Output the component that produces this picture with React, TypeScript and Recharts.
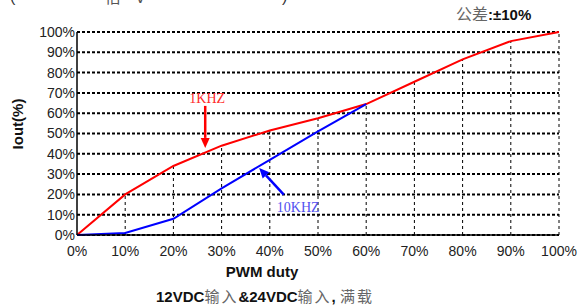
import React from 'react';
import { LineChart, Line, XAxis, YAxis, CartesianGrid, ReferenceLine } from 'recharts';

const duty = [0, 10, 20, 30, 40, 50, 60, 70, 80, 90, 100];
const iout1k = [0, 20, 34, 44, 51.5, 57.5, 64.5, 75.5, 86.5, 95.5, 100];
const iout10k: (number | null)[] = [0, 1, 8, 23, 37, 51, 64.5, null, null, null, null];
const xTicks = [0, 10, 20, 30, 40, 50, 60, 70, 80, 90, 100];
const yTicks = [0, 10, 20, 30, 40, 50, 60, 70, 80, 90, 100];

const label1k = '1KHZ';
const label10k = '10KHZ';
const arrow1k = [{ x: 26.6, y: 63.6 }, { x: 26.6, y: 42.9 }];
const arrow10k = [{ x: 42.9, y: 19.9 }, { x: 37.8, y: 33 }];

const data = duty.map((d, i) => ({ duty: d, k1: iout1k[i], k10: iout10k[i] }));

const makeArrow = (color: string, textColor: string, text: string, tdx: number, tdy: number, anchor: string) => (props: any) => {
  const { x1, y1, x2, y2 } = props;
  const ang = Math.atan2(y2 - y1, x2 - x1);
  const len = 10;
  const hw = 4.5;
  const bx = x2 - len * Math.cos(ang);
  const by = y2 - len * Math.sin(ang);
  const px = -Math.sin(ang);
  const py = Math.cos(ang);
  return (
    <g>
      <line x1={x1} y1={y1} x2={bx} y2={by} stroke={color} strokeWidth={2.5} />
      <polygon points={`${x2},${y2} ${bx + px * hw},${by + py * hw} ${bx - px * hw},${by - py * hw}`} fill={color} />
      <text x={x1 + tdx} y={y1 + tdy} fill={textColor} fontFamily="'Liberation Serif', serif" fontSize={14} textAnchor={anchor as any}>{text}</text>
    </g>
  );
};

const pct = (v: number) => `${v}%`;

export default function App() {
  return (
    <div style={{ position: 'absolute', left: 0, top: 0, width: 584, height: 307, background: '#fff' }}>
      <LineChart width={584} height={307} data={data} margin={{ top: 32, right: 25, bottom: 42, left: 0 }}>
        <CartesianGrid horizontal vertical={false} stroke="#000" strokeDasharray="3 2" strokeWidth={2} />
        <XAxis dataKey="duty" type="number" domain={[0, 100]} ticks={xTicks} tickFormatter={pct}
          axisLine={{ stroke: '#000', strokeWidth: 1.5 }} tickLine={false} tickSize={0} tickMargin={11}
          tick={{ fill: '#222', fontSize: 14, fontFamily: "'Liberation Sans', Arial, sans-serif" }} interval={0} />
        <YAxis type="number" domain={[0, 100]} ticks={yTicks} tickFormatter={pct} width={77}
          axisLine={{ stroke: '#000', strokeWidth: 1.5 }} tickLine={false} tickSize={0} tickMargin={2}
          tick={{ fill: '#222', fontSize: 14, fontFamily: "'Liberation Sans', Arial, sans-serif" }} interval={0} />
        {duty.slice(1).map((d, i) => (
          <ReferenceLine key={d} segment={[{ x: d, y: 0 }, { x: d, y: iout1k[i + 1] }]} stroke="#000" strokeWidth={1} strokeDasharray="3 3" />
        ))}
        <Line dataKey="k1" stroke="#ff0000" strokeWidth={2} dot={false} isAnimationActive={false} />
        <Line dataKey="k10" stroke="#0000ff" strokeWidth={2} dot={false} isAnimationActive={false} connectNulls={false} />
        <ReferenceLine segment={arrow1k} shape={makeArrow('#ff0000', '#ff2a2a', label1k, 2, -3, 'middle')} />
        <ReferenceLine segment={arrow10k} shape={makeArrow('#0000ff', '#5050f0', label10k, -7, 17, 'start')} />
      </LineChart>
      <svg width={584} height={307} style={{ position: 'absolute', left: 0, top: 0, pointerEvents: 'none' }}>
        <g fontFamily="'Liberation Sans', Arial, sans-serif">
          <text x={10} y={2} fontSize={16} fill="#333">(</text>
          <text x={105} y={3} fontSize={16} fill="#555" fontFamily="'Noto Sans CJK SC', sans-serif">倍</text>
          <text x={135} y={3} fontSize={16} fill="#555">V</text>
          <text x={282} y={2} fontSize={16} fill="#333">)</text>
          <text x={456} y={20} fontSize={15}>
            <tspan fill="#666" fontFamily="'Noto Sans CJK SC', sans-serif" fontSize={16}>公差</tspan>
            <tspan fill="#111" fontWeight="bold">:±10%</tspan>
          </text>
          <text transform="translate(23,124) rotate(-90)" textAnchor="middle" fontSize={15} fontWeight="bold" fill="#111">Iout(%)</text>
          <text x={262} y={277} textAnchor="middle" fontSize={15} fontWeight="bold" fill="#111">PWM duty</text>
          <text x={265} y={302} textAnchor="middle" fontSize={15}>
            <tspan fontWeight="bold" fill="#111">12VDC</tspan>
            <tspan fill="#666" fontFamily="'Noto Sans CJK SC', sans-serif" letterSpacing={2}>输入</tspan>
            <tspan fontWeight="bold" fill="#111">&amp;24VDC</tspan>
            <tspan fill="#666" fontFamily="'Noto Sans CJK SC', sans-serif" letterSpacing={2}>输入</tspan>
            <tspan fontWeight="bold" fill="#111">, </tspan>
            <tspan fill="#666" fontFamily="'Noto Sans CJK SC', sans-serif" letterSpacing={2}>满载</tspan>
          </text>
        </g>
      </svg>
    </div>
  );
}
